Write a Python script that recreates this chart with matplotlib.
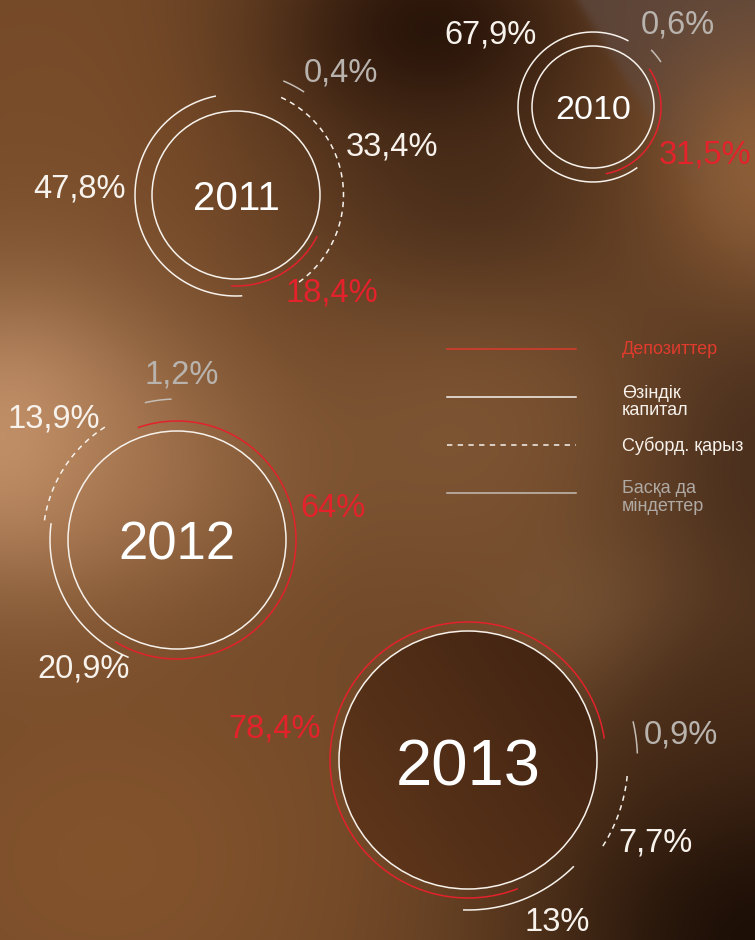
import numpy as np
import matplotlib
matplotlib.use("Agg")
import matplotlib.pyplot as plt
from matplotlib.patches import Circle

# ---------------- data ----------------
years = ["2010", "2011", "2012", "2013"]
deposits = [31.5, 18.4, 64.0, 78.4]
equity = [67.9, 47.8, 20.9, 13.0]
subordinated = [None, 33.4, 13.9, 7.7]
other = [0.6, 0.4, 1.2, 0.9]
legend_labels = ["Депозиттер", "Өзіндік\nкапитал", "Суборд. қарыз", "Басқа да\nміндеттер"]

# ---------------- layout / style ----------------
W, H = 755, 940
RED = "#e3222b"
WHITE = "#f7f2ec"
GRAY = "#b9b3ae"
FONT = ["Liberation Sans", "DejaVu Sans"]

centers = [(593, 107), (236, 195), (177, 540), (468, 760)]
inner_r = [61, 84, 109, 129]
year_fs = [24.5, 29, 38, 47]
year_base = [119, 210, 559, 785]
# radius and mid-angle (deg, screen convention) of each series' arc
radius = {"dep": [68, 91, 119, 138], "eq": [75, 101, 127, 150],
          "sub": [None, 107.5, 134, 160], "oth": [81.5, 123.5, 141, 169.5]}
mid_ang = {"dep": [-22.5, -60, -6, 150], "eq": [184, 187.5, 210, -68.5],
           "sub": [None, 6, 147.6, -18.7], "oth": [39, 62, 97.7, 7.7]}
# label positions (center x, baseline y)
lab_pos = {"dep": [(705, 164), (332, 302), (333, 517), (275, 737)],
           "eq": [(490, 44), (80, 197), (84, 678), (557, 931)],
           "sub": [None, (392, 156), (54, 428), (655, 851)],
           "oth": [(678, 34), (341, 82), (182, 384), (681, 743)]}

fig = plt.figure(figsize=(W / 100, H / 100), dpi=100)
ax = fig.add_axes([0, 0, 1, 1])
ax.set_xlim(0, W)
ax.set_ylim(H, 0)
ax.axis("off")

# ---------------- background ----------------
Y, X = np.mgrid[0:H, 0:W].astype(float)
img = np.ones((H, W, 3)) * np.array([112, 72, 40]) / 255.0


def blend(color, cx, cy, sx, sy, strength):
    a = strength * np.exp(-(((X - cx) / sx) ** 2 + ((Y - cy) / sy) ** 2) / 2)
    img[:] = img * (1 - a[..., None]) + (np.array(color) / 255.0) * a[..., None]


blend((125, 78, 42), 80, 120, 160, 140, 0.7)
blend((38, 18, 8), 430, 30, 120, 90, 0.95)
blend((55, 32, 18), 470, 210, 120, 90, 0.6)
blend((60, 38, 25), 760, 450, 110, 150, 0.75)
blend((205, 155, 115), 10, 440, 110, 110, 0.9)
blend((175, 125, 85), 150, 470, 110, 90, 0.5)
blend((140, 98, 62), 470, 430, 130, 110, 0.5)
blend((140, 88, 46), 110, 860, 190, 150, 0.65)
blend((150, 110, 72), 610, 625, 80, 60, 0.55)
blend((28, 14, 6), 760, 940, 170, 180, 1.0)
blend((70, 42, 24), 700, 700, 80, 100, 0.5)
# top-right lighter band
d = ((X - 577) * 123 - Y * 76) / 144.6
band = 1 / (1 + np.exp(-d / 2.5)) * np.exp(-((Y) / 200) ** 2)
a = 0.85 * band
img[:] = img * (1 - a[..., None]) + np.array([92, 70, 60]) / 255.0 * a[..., None]
blend((150, 100, 58), 760, 170, 70, 90, 0.8)
img = np.clip(img, 0, 1)
ax.imshow(img, extent=(0, W, H, 0), aspect="auto", zorder=0, interpolation="bilinear")

# dark disc of 2013
cx13, cy13 = centers[3]
gr = np.linspace(0, 1, 100)
GX, GY = np.meshgrid(gr, gr)
disc = np.zeros((100, 100, 3))
t = (GX * 0.6 + (1 - GY) * 0.4)
c1 = np.array([98, 56, 28]) / 255.0
c2 = np.array([62, 34, 17]) / 255.0
disc[:] = c1 * (1 - t[..., None]) + c2 * t[..., None]
im = ax.imshow(disc, extent=(cx13 - inner_r[3], cx13 + inner_r[3], cy13 + inner_r[3], cy13 - inner_r[3]),
               aspect="auto", zorder=1, interpolation="bilinear")
clip = Circle((cx13, cy13), inner_r[3], transform=ax.transData)
im.set_clip_path(clip)
ax.set_xlim(0, W)
ax.set_ylim(H, 0)


# ---------------- arcs ----------------
def arc(cx, cy, r, mid, span, **kw):
    th = np.radians(np.linspace(mid - span / 2, mid + span / 2, 200))
    ax.plot(cx + r * np.cos(th), cy - r * np.sin(th), solid_capstyle="butt", zorder=3, **kw)


def fmt(v):
    s = f"{v:g}".replace(".", ",")
    return s + "%"


series = [("dep", deposits, RED, "-", RED),
          ("eq", equity, WHITE, "-", WHITE),
          ("sub", subordinated, WHITE, (0, (3.5, 3)), WHITE),
          ("oth", other, "#c4bdb6", "-", GRAY)]

for i, yr in enumerate(years):
    cx, cy = centers[i]
    ax.add_patch(Circle((cx, cy), inner_r[i], fill=False, ec=WHITE, lw=1.1, zorder=3))
    ax.text(cx, year_base[i], yr, ha="center", va="baseline", color="white",
            fontsize=year_fs[i], family=FONT, zorder=4)
    for key, vals, col, ls, tcol in series:
        v = vals[i]
        if v is None:
            continue
        span = max(v * 3.6, 11)
        arc(cx, cy, radius[key][i], mid_ang[key][i], span, color=col, lw=1.1, ls=ls)
        lx, ly = lab_pos[key][i]
        ax.text(lx, ly, fmt(v), ha="center", va="baseline", color=tcol,
                fontsize=23.5, family=FONT, zorder=4)

# ---------------- legend ----------------
leg_y = [349, 397, 445, 493]
leg_line = [("#dc3a2c", "-"), (WHITE, "-"), (WHITE, (0, (3.5, 3.5))), ("#c4bdb6", "-")]
leg_txt_col = ["#e03b2d", WHITE, WHITE, "#b0aaa5"]
leg_txt_base = [[354], [398, 415], [451], [493, 511]]
for k in range(4):
    ax.plot([447, 576], [leg_y[k], leg_y[k]], color=leg_line[k][0], ls=leg_line[k][1], lw=1.1, zorder=3)
    for line, yb in zip(legend_labels[k].split("\n"), leg_txt_base[k]):
        ax.text(622, yb, line, ha="left", va="baseline", color=leg_txt_col[k],
                fontsize=13, family=FONT, zorder=4)

fig.savefig("out.png", dpi=100)
